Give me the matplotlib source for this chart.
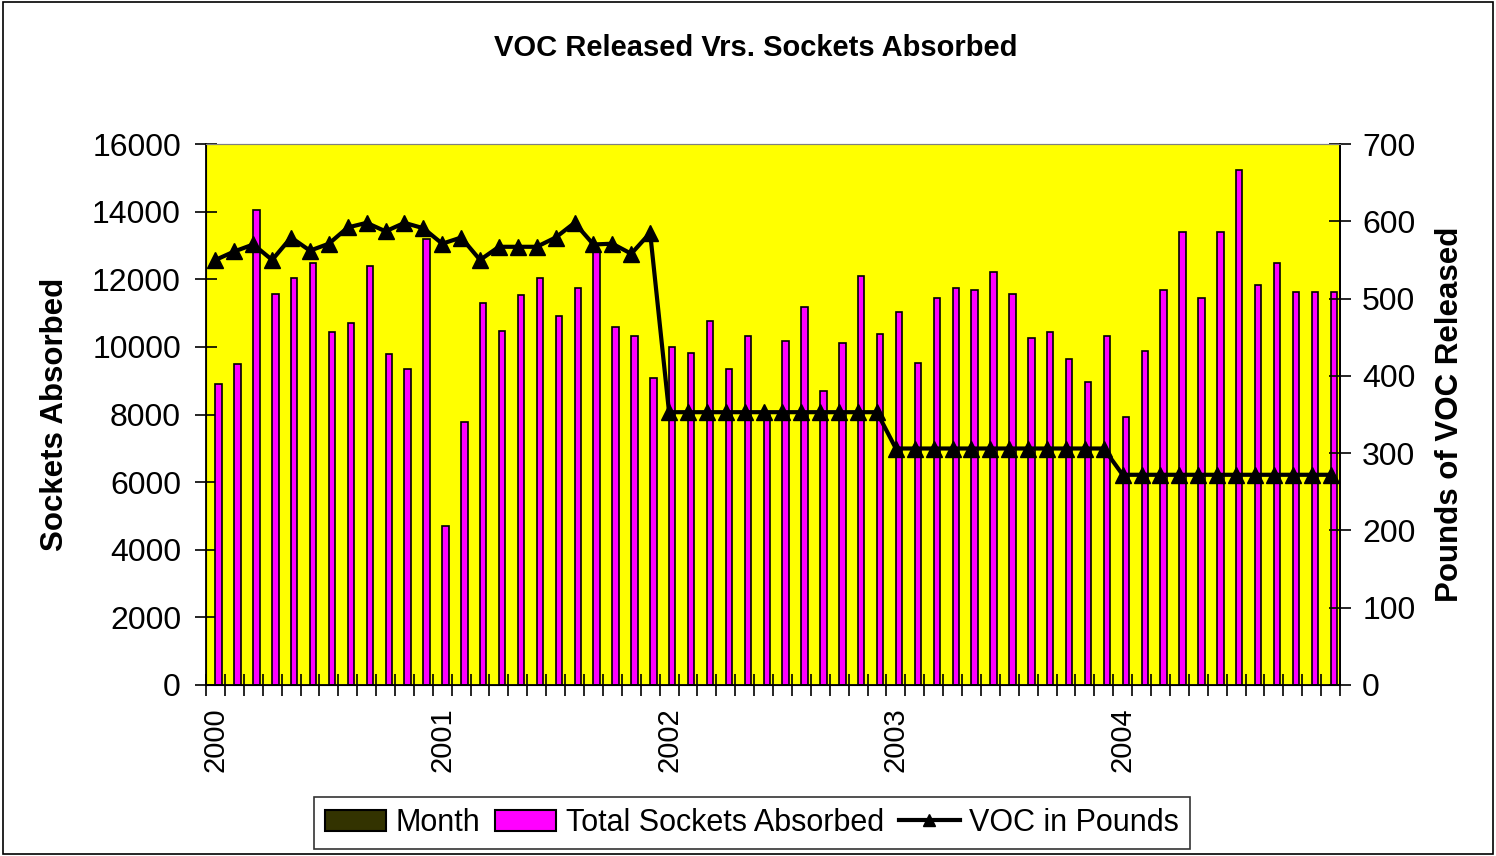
import numpy as np
import matplotlib.pyplot as plt
from matplotlib.patches import Patch
from matplotlib.lines import Line2D

plt.rcParams['font.family'] = ['Liberation Sans', 'DejaVu Sans']

# monthly data, Jan 2000 - Dec 2004
sockets = [8900, 9500, 14050, 11560, 12050, 12490, 10430, 10700, 12380, 9790, 9350, 13200,
           4700, 7780, 11300, 10480, 11520, 12050, 10920, 11730, 12800, 10590, 10330, 9090,
           10000, 9830, 10760, 9350, 10330, 8000, 10160, 11180, 8700, 10100, 12100, 10380,
           11020, 9510, 11450, 11730, 11680, 12200, 11560, 10270, 10430, 9630, 8970, 10330,
           7940, 9890, 11680, 13400, 11450, 13400, 15240, 11830, 12490, 11620, 11620, 11620]
voc = [550, 561, 570, 550, 579, 562, 571, 592, 598, 587, 598, 591,
       571, 579, 550, 567, 567, 567, 579, 598, 570, 571, 558, 585,
       353, 353, 353, 353, 353, 353, 353, 353, 353, 353, 353, 353,
       306, 306, 306, 306, 306, 306, 306, 306, 306, 306, 306, 306,
       272, 272, 272, 272, 272, 272, 272, 272, 272, 272, 272, 272]
year_labels = ['2000', '2001', '2002', '2003', '2004']

x = np.arange(len(sockets))
bw = 0.34

fig = plt.figure(figsize=(14.96, 8.56), dpi=100)
ax = fig.add_axes([206/1496, 1-685/856, (1340-206)/1496, (685-144)/856])
ax.set_facecolor('#FFFF00')
ax.bar(x + bw/2, sockets, width=bw, color='#FF00FF', edgecolor='black', linewidth=1.2, zorder=2)
ax.set_xlim(-0.5, len(sockets) - 0.5)
ax.set_ylim(0, 16000)
ax.set_yticks(np.arange(0, 16001, 2000))
ax.set_xticks(np.arange(0, 60, 12))
ax.set_xticklabels(year_labels, rotation=90)
ax.set_xticks(np.arange(-0.5, 60, 1), minor=True)
ax.tick_params(axis='x', which='major', length=0, labelsize=21, pad=16)
ax.tick_params(axis='x', which='minor', direction='inout', length=16, width=1.2)
ax.tick_params(axis='y', direction='inout', length=16, width=1.2, labelsize=23, pad=10)
ax.set_ylabel('Sockets Absorbed', fontsize=22.5, fontweight='bold', labelpad=16)
ax.spines['top'].set_color('#808080')
for s in ['left', 'bottom', 'right']:
    ax.spines[s].set_linewidth(1.3)

ax2 = ax.twinx()
ax2.plot(x, voc, color='black', linewidth=3, marker='^', markersize=12, zorder=3)
ax2.set_ylim(0, 700)
ax2.set_yticks(np.arange(0, 701, 100))
ax2.tick_params(axis='y', direction='inout', length=16, width=1.2, labelsize=23, pad=8)
ax2.set_ylabel('Pounds of VOC Released', fontsize=22.5, fontweight='bold', labelpad=14)
ax2.spines['top'].set_color('#808080')
ax2.spines['right'].set_linewidth(1.3)

fig.text(756/1496, 1-48/856, 'VOC Released Vrs. Sockets Absorbed', ha='center', va='center',
         fontsize=21, family=['Liberation Sans Narrow', 'Liberation Sans'], fontweight='bold')

handles = [Patch(facecolor='#333300', edgecolor='black', linewidth=1.5),
           Patch(facecolor='#FF00FF', edgecolor='black', linewidth=1.5),
           Line2D([], [], color='black', linewidth=3, marker='^', markersize=9)]
leg = fig.legend(handles, ['Month', 'Total Sockets Absorbed', 'VOC in Pounds'],
                 loc='center', bbox_to_anchor=(752/1496, 1-823/856), ncol=3, fontsize=22,
                 frameon=True, fancybox=False, edgecolor='black', handlelength=2.0,
                 handletextpad=0.3, columnspacing=0.5, borderpad=0.35)
leg.get_frame().set_linewidth(1.2)

# outer border
fig.patches.append(plt.Rectangle((0.002, 0.002), 0.996, 0.996, transform=fig.transFigure,
                                 fill=False, edgecolor='black', linewidth=1.2))

fig.savefig('out.png', dpi=100)
